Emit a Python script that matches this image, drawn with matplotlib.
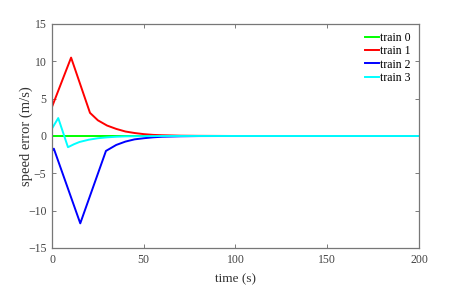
import matplotlib
matplotlib.use('Agg')
import matplotlib.pyplot as plt

plt.rcParams['font.family'] = ['Liberation Serif', 'DejaVu Serif']

# speed error readings (time s, error m/s)
t0 = [0, 200]
e0 = [0, 0]

t1 = [0, 10.4, 20.7, 25, 30, 35, 40, 45, 50, 55, 60, 70, 80, 100, 200]
e1 = [3.9, 10.5, 3.1, 2.1, 1.4, 0.95, 0.6, 0.4, 0.25, 0.15, 0.1, 0.04, 0.02, 0, 0]

t2 = [0, 1, 15.4, 29.4, 35, 40, 45, 50, 55, 60, 70, 80, 100, 200]
e2 = [-2.0, -1.7, -11.7, -2.0, -1.2, -0.75, -0.45, -0.3, -0.18, -0.1, -0.04, -0.01, 0, 0]

t3 = [0, 3.4, 8.7, 12, 15, 20, 25, 30, 35, 40, 50, 60, 200]
e3 = [1.0, 2.4, -1.5, -1.1, -0.8, -0.5, -0.3, -0.18, -0.1, -0.05, -0.02, 0, 0]

labels = ['train 0', 'train 1', 'train 2', 'train 3']
colors = ['#00ff00', '#ff0000', '#0000ff', '#00ffff']

fig = plt.figure(figsize=(4.57, 2.86), dpi=100)
ax = fig.add_axes([0.1138, 0.1329, 0.803, 0.7832])

for t, e, lab, c in zip([t0, t1, t2, t3], [e0, e1, e2, e3], labels, colors):
    ax.plot(t, e, color=c, lw=1.4, label=lab)

ax.set_xlim(0, 200)
ax.set_ylim(-15, 15)
ax.set_xticks([0, 50, 100, 150, 200])
ax.set_yticks([-15, -10, -5, 0, 5, 10, 15])
ax.tick_params(direction='in', length=3, width=0.6, color='#666666',
               labelsize=8.5, labelcolor='#444444', top=True, right=True, pad=4)
for s in ax.spines.values():
    s.set_color('#777777')
    s.set_linewidth(0.9)

ax.set_xlabel('time (s)', fontsize=9.5, color='#333333', labelpad=5.5)
ax.set_ylabel('speed error (m/s)', fontsize=10.5, color='#333333', labelpad=-3.5)

ax.legend(loc='upper right', frameon=False, fontsize=8.5, handlelength=1.2,
          handletextpad=0.1, labelspacing=0.1, borderaxespad=0.3)

fig.savefig('out.png', dpi=100)
